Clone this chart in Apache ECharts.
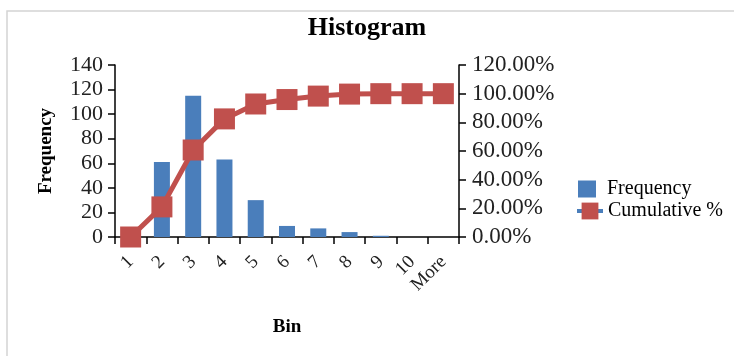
<!DOCTYPE html>
<html>
<head>
<meta charset="utf-8">
<style>
  html, body { margin: 0; padding: 0; background: #ffffff; }
  #chart { width: 734px; height: 356px; }
</style>
<script src="https://cdn.jsdelivr.net/npm/echarts@6/dist/echarts.min.js"></script>
</head>
<body>
<div id="chart"></div>
<script>
// Histogram bins and counts, with the running cumulative share per bin
const bins = ['1', '2', '3', '4', '5', '6', '7', '8', '9', '10', 'More'];
const frequency = [0, 61, 115, 63, 30, 9, 7, 4, 1, 0, 0];
const cumulative = [0, 0.210, 0.607, 0.824, 0.928, 0.959, 0.983, 0.997, 1, 1, 1];
const freqTicks = { min: 0, max: 140, interval: 20 };
const pctTicks = { min: 0, max: 1.2, interval: 0.2 };

const FONT = 'Liberation Serif';
const BLUE = '#4a7ebb';
const RED = '#c0504d';
const INK = '#000000';

const chart = echarts.init(document.getElementById('chart'), null, { renderer: 'canvas' });

const axisLineStyle = { show: true, lineStyle: { color: INK, width: 1.5 } };

chart.setOption({
  backgroundColor: '#ffffff',
  animation: false,
  textStyle: { fontFamily: FONT, color: INK },
  graphic: [{
    type: 'rect',
    shape: { x: 7, y: 11, width: 800, height: 400 },
    style: { fill: 'none', stroke: '#d4d4d4', lineWidth: 1.5 },
    silent: true,
    z: -10
  }],
  title: {
    text: 'Histogram',
    left: 'center',
    top: 10,
    textStyle: { fontFamily: FONT, fontSize: 26, fontWeight: 'bold', color: INK }
  },
  grid: { left: 115, right: 275, top: 65, bottom: 119, containLabel: false },
  legend: [{
    data: [{ name: 'Frequency', icon: 'rect' }],
    orient: 'vertical',
    left: 573,
    top: 174,
    itemWidth: 18,
    itemHeight: 17,
    textStyle: { fontFamily: FONT, fontSize: 20, color: INK, padding: [0, 0, 0, 6] }
  }, {
    data: [{ name: 'Cumulative %', lineStyle: { color: BLUE, width: 4 } }],
    orient: 'vertical',
    left: 570,
    top: 196,
    itemWidth: 26,
    itemHeight: 21,
    textStyle: { fontFamily: FONT, fontSize: 20, color: INK }
  }],
  xAxis: {
    type: 'category',
    data: bins,
    boundaryGap: true,
    name: 'Bin',
    nameLocation: 'middle',
    nameGap: 81,
    nameTextStyle: { fontFamily: FONT, fontSize: 19, fontWeight: 'bold', color: INK },
    axisLine: axisLineStyle,
    axisTick: { show: true, interval: 0, alignWithLabel: false, length: 7, lineStyle: { color: INK, width: 1.5 } },
    axisLabel: { interval: 0, hideOverlap: false, rotate: 45, margin: 22, fontFamily: FONT, fontSize: 19, color: '#222222' },
    splitLine: { show: false }
  },
  yAxis: [{
    type: 'value',
    min: freqTicks.min,
    max: freqTicks.max,
    interval: freqTicks.interval,
    name: 'Frequency',
    nameLocation: 'middle',
    nameRotate: 90,
    nameGap: 59,
    nameTextStyle: { fontFamily: FONT, fontSize: 19, fontWeight: 'bold', color: INK },
    axisLine: axisLineStyle,
    axisTick: { show: true, length: 7, lineStyle: { color: INK, width: 1.5 } },
    axisLabel: { margin: 12, fontFamily: FONT, fontSize: 22, color: '#222222' },
    splitLine: { show: false }
  }, {
    type: 'value',
    position: 'right',
    min: pctTicks.min,
    max: pctTicks.max,
    interval: pctTicks.interval,
    axisLine: axisLineStyle,
    axisTick: { show: true, length: 7, lineStyle: { color: INK, width: 1.5 } },
    axisLabel: {
      margin: 13,
      fontFamily: FONT,
      fontSize: 23,
      color: '#222222',
      formatter: v => (v * 100).toFixed(2) + '%'
    },
    splitLine: { show: false }
  }],
  series: [{
    name: 'Frequency',
    type: 'bar',
    data: frequency,
    barWidth: 16,
    itemStyle: { color: BLUE },
    z: 2
  }, {
    name: 'Cumulative %',
    type: 'line',
    yAxisIndex: 1,
    data: cumulative,
    symbol: 'rect',
    symbolSize: 21,
    showAllSymbol: true,
    clip: false,
    lineStyle: { color: RED, width: 5 },
    itemStyle: { color: RED },
    z: 3
  }]
});
</script>
</body>
</html>
